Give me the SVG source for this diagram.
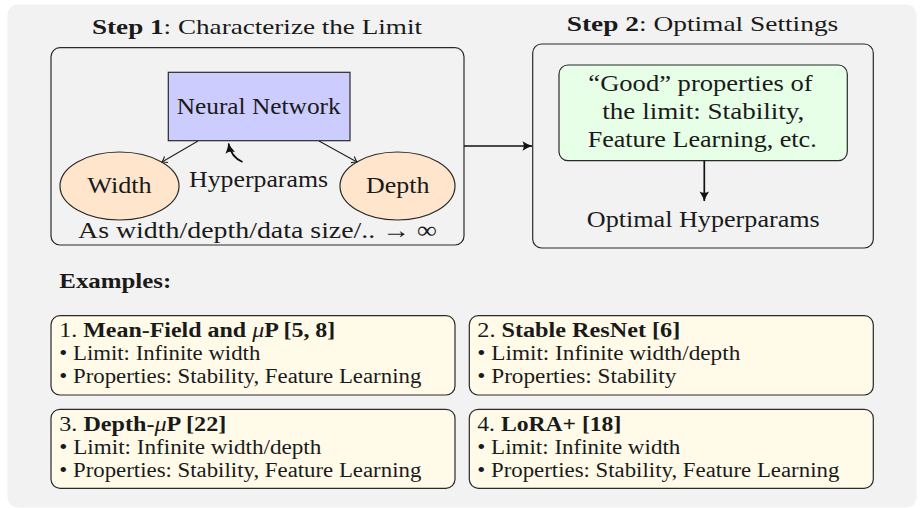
<svg xmlns="http://www.w3.org/2000/svg" width="924" height="508" viewBox="0 0 924 508">
<defs>
<style>
text{fill:#1a1a1a;font-family:"Liberation Serif","Times New Roman",serif}
.t23{font-size:24px}
.t19{font-size:20.5px}
.tt{font-size:21.5px}
.b{font-weight:bold}
.box{stroke:#2a2a2a;stroke-width:1.2}
.ex{fill:#fffbe8;stroke:#2a2a2a;stroke-width:1.2}
.thin{fill:none;stroke:#222;stroke-width:1.1}
.thick{fill:none;stroke:#111;stroke-width:1.7}
</style>
<marker id="ah" viewBox="-6 -5 8 10" markerWidth="8" markerHeight="10" refX="0" refY="0" orient="auto" markerUnits="userSpaceOnUse">
<path d="M-5,-3.5 Q-2,-1 0,0 Q-2,1 -5,3.5" fill="none" stroke="#222" stroke-width="1.1"/>
</marker>
<marker id="ahk" viewBox="-11 -6 12 12" markerWidth="12" markerHeight="12" refX="0" refY="0" orient="auto" markerUnits="userSpaceOnUse">
<path d="M-9.5,-4.8 Q-4,-1.2 0.5,0 Q-4,1.2 -9.5,4.8 Q-7,0 -9.5,-4.8Z" fill="#111"/>
</marker>
</defs>
<rect x="7.5" y="4.5" width="909" height="503" rx="10" fill="#f2f2f2"/>
<g id="step1">
<text class="tt" x="257" y="34" text-anchor="middle" textLength="330" lengthAdjust="spacingAndGlyphs"><tspan class="b">Step 1</tspan>: Characterize the Limit</text>
<rect x="51" y="47.7" width="413" height="197.3" rx="9" fill="none" class="box"/>
<text class="t23" x="257.5" y="238.3" text-anchor="middle" textLength="359" lengthAdjust="spacingAndGlyphs">As width/depth/data size/.. → ∞</text>
</g>
<g id="nn">
<rect x="168.3" y="72.3" width="181.7" height="68.4" fill="#ccccff" class="box"/>
<text class="t23" x="258.7" y="114" text-anchor="middle" textLength="164" lengthAdjust="spacingAndGlyphs">Neural Network</text>
</g>
<g id="width">
<ellipse cx="119.5" cy="186" rx="59.5" ry="34" fill="#ffe5cc" class="box"/>
<text class="t23" x="119.5" y="193" text-anchor="middle" textLength="64.4" lengthAdjust="spacingAndGlyphs">Width</text>
</g>
<g id="depth">
<ellipse cx="397.5" cy="186" rx="57.5" ry="34" fill="#ffe5cc" class="box"/>
<text class="t23" x="397.7" y="192.7" text-anchor="middle" textLength="63.3" lengthAdjust="spacingAndGlyphs">Depth</text>
</g>
<g id="hyper">
<text class="t23" x="258.5" y="186.7" text-anchor="middle" textLength="139" lengthAdjust="spacingAndGlyphs">Hyperparams</text>
</g>
<g id="step2">
<text class="tt" x="702.5" y="30.7" text-anchor="middle" textLength="271.6" lengthAdjust="spacingAndGlyphs"><tspan class="b">Step 2</tspan>: Optimal Settings</text>
<rect x="532.7" y="44" width="340.6" height="204" rx="9" fill="none" class="box"/>
</g>
<g id="good">
<rect x="559" y="65" width="288.3" height="95.7" rx="9" fill="#e6ffe6" class="box"/>
<text class="t23" x="700.5" y="90.5" text-anchor="middle" textLength="224.3" lengthAdjust="spacingAndGlyphs">“Good” properties of</text>
<text class="t23" x="703.3" y="118.5" text-anchor="middle" textLength="202" lengthAdjust="spacingAndGlyphs">the limit: Stability,</text>
<text class="t23" x="702.2" y="146.7" text-anchor="middle" textLength="229" lengthAdjust="spacingAndGlyphs">Feature Learning, etc.</text>
</g>
<g id="optimal">
<text class="t23" x="703.3" y="226.7" text-anchor="middle" textLength="233" lengthAdjust="spacingAndGlyphs">Optimal Hyperparams</text>
</g>
<g id="connectors">
<line x1="198" y1="141" x2="162" y2="162" class="thin" marker-end="url(#ah)"/>
<line x1="319" y1="141" x2="357" y2="162" class="thin" marker-end="url(#ah)"/>
<path d="M242.5,162 Q231,157 228.5,143.5" class="thick" marker-end="url(#ahk)"/>
<line x1="464" y1="146" x2="532" y2="146" class="thick" marker-end="url(#ahk)"/>
<line x1="704.3" y1="160.7" x2="704.3" y2="201" class="thick" marker-end="url(#ahk)"/>
</g>
<g id="examples-label">
<text class="tt b" x="59.3" y="288.3" textLength="112" lengthAdjust="spacingAndGlyphs">Examples:</text>
</g>
<g id="ex1">
<rect x="51" y="315.7" width="404" height="79.3" rx="9" class="ex"/>
<text class="t19" x="59.3" y="337.3" textLength="276" lengthAdjust="spacingAndGlyphs">1. <tspan class="b">Mean-Field and <tspan font-style="italic" font-weight="normal">μ</tspan>P [5, 8]</tspan></text>
<text class="t19" x="59.3" y="360" textLength="201" lengthAdjust="spacingAndGlyphs">• Limit: Infinite width</text>
<text class="t19" x="59.3" y="382.7" textLength="362" lengthAdjust="spacingAndGlyphs">• Properties: Stability, Feature Learning</text>
</g>
<g id="ex2">
<rect x="469.3" y="315.7" width="404" height="79.3" rx="9" class="ex"/>
<text class="t19" x="477.3" y="337.3" textLength="203" lengthAdjust="spacingAndGlyphs">2. <tspan class="b">Stable ResNet [6]</tspan></text>
<text class="t19" x="477.3" y="360" textLength="263" lengthAdjust="spacingAndGlyphs">• Limit: Infinite width/depth</text>
<text class="t19" x="477.3" y="382.7" textLength="199" lengthAdjust="spacingAndGlyphs">• Properties: Stability</text>
</g>
<g id="ex3">
<rect x="51" y="409.3" width="404" height="79" rx="9" class="ex"/>
<text class="t19" x="59.3" y="431" textLength="167" lengthAdjust="spacingAndGlyphs">3. <tspan class="b">Depth-<tspan font-style="italic" font-weight="normal">μ</tspan>P [22]</tspan></text>
<text class="t19" x="59.3" y="454.3" textLength="262" lengthAdjust="spacingAndGlyphs">• Limit: Infinite width/depth</text>
<text class="t19" x="59.3" y="477" textLength="362" lengthAdjust="spacingAndGlyphs">• Properties: Stability, Feature Learning</text>
</g>
<g id="ex4">
<rect x="469.3" y="409.3" width="404" height="79" rx="9" class="ex"/>
<text class="t19" x="477.3" y="431" textLength="144" lengthAdjust="spacingAndGlyphs">4. <tspan class="b">LoRA+ [18]</tspan></text>
<text class="t19" x="477.3" y="454.3" textLength="203" lengthAdjust="spacingAndGlyphs">• Limit: Infinite width</text>
<text class="t19" x="477.3" y="477" textLength="362" lengthAdjust="spacingAndGlyphs">• Properties: Stability, Feature Learning</text>
</g>
</svg>
